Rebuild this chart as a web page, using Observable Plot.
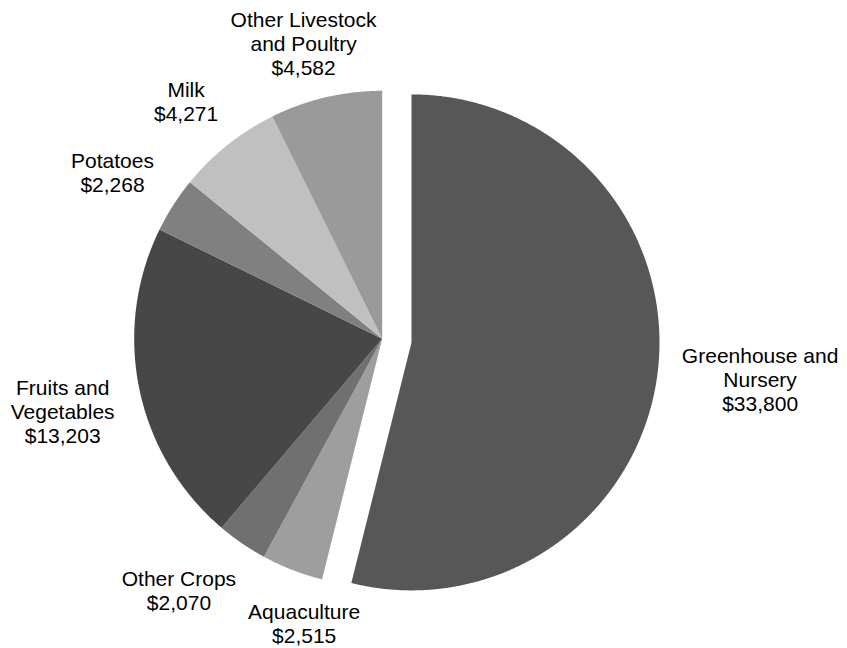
<!DOCTYPE html>
<html><head><meta charset="utf-8">
<script src="https://cdn.jsdelivr.net/npm/d3@7"></script>
<script src="https://cdn.jsdelivr.net/npm/@observablehq/plot@0.6"></script>
<style>body{margin:0;background:#fff;} #chart{width:847px;height:648px;}</style>
</head><body><div id="chart"></div>
<script>
// ---- data ----
const categories = ["Greenhouse and\nNursery", "Aquaculture", "Other Crops", "Fruits and\nVegetables", "Potatoes", "Milk", "Other Livestock\nand Poultry"];
const values = [33800, 2515, 2070, 13203, 2268, 4271, 4582];
// ---- styles ----
const sliceColors = ["#575757", "#9e9e9e", "#707070", "#474747", "#808080", "#c0c0c0", "#9a9a9a"];
const explodedCategory = "Greenhouse and\nNursery";

const W = 847, H = 648;
const cx = 381.7, cy = 338.3, R = 248, explodeDist = 29.5, gap = 21;
const labelAngleShift = -1 * Math.PI / 180;
const padTop = 7, padBottom = 1, padSide = 1, labelPad = 8;
const fontSize = 21, lineH = 1.14;
const fontFamily = "'Liberation Sans', Arial, Helvetica, sans-serif";

const rows = categories.map((name, i) => ({name, value: values[i]}));
const arcs = d3.pie().sort(null).value(d => d.value)(rows);

// slice polygons
const points = [];
const centers = {};
for (const a of arcs) {
  const mid = (a.startAngle + a.endAngle) / 2;
  const off = a.data.name === explodedCategory ? explodeDist : 0;
  const ox = cx + off * Math.sin(mid), oy = cy - off * Math.cos(mid);
  centers[a.data.name] = [ox, oy];
  points.push({name: a.data.name, x: ox, y: oy});
  const n = Math.max(2, Math.ceil((a.endAngle - a.startAngle) / (Math.PI / 720)));
  for (let k = 0; k <= n; k++) {
    const t = a.startAngle + (a.endAngle - a.startAngle) * k / n;
    points.push({name: a.data.name, x: ox + R * Math.sin(t), y: oy - R * Math.cos(t)});
  }
}

// label layout
const canvas = document.createElement("canvas");
const ctx = canvas.getContext("2d");
ctx.font = `${fontSize}px ${fontFamily}`;
const fmt = d3.format(",");
const labels = arcs.map(a => {
  const text = a.data.name + "\n$" + fmt(a.data.value);
  const lines = text.split("\n");
  const w = d3.max(lines, l => ctx.measureText(l).width);
  const h = lines.length * fontSize * lineH;
  return {name: a.data.name, text, w, h, theta: (a.startAngle + a.endAngle) / 2 + labelAngleShift, c: centers[a.data.name]};
});
function place(l) {
  const s = Math.sin(l.theta), c = Math.cos(l.theta);
  const D = R + gap + Math.abs(s) * l.w / 2 + Math.abs(c) * l.h / 2;
  let x = l.c[0] + D * s, y = l.c[1] - D * c;
  x = Math.max(l.w / 2 + padSide, Math.min(W - l.w / 2 - padSide, x));
  y = Math.max(l.h / 2 + padTop, Math.min(H - l.h / 2 - padBottom, y));
  l.x = x; l.y = y;
}
function overlap(a, b) {
  return Math.abs(a.x - b.x) < (a.w + b.w) / 2 + labelPad && Math.abs(a.y - b.y) < (a.h + b.h) / 2;
}
labels.forEach(place);
for (let it = 0; it < 300; it++) {
  let moved = false;
  for (let i = 0; i < labels.length - 1; i++) {
    const a = labels[i], b = labels[i + 1];
    if (overlap(a, b)) {
      a.theta -= Math.PI / 360; b.theta += Math.PI / 360;
      place(a); place(b); moved = true;
    }
  }
  if (!moved) break;
}

const chart = Plot.plot({
  width: W, height: H,
  margin: 0,
  x: {domain: [0, W], range: [0, W], axis: null},
  y: {domain: [0, H], range: [0, H], axis: null},
  color: {domain: categories, range: sliceColors},
  style: {fontFamily, background: "#fff"},
  marks: [
    Plot.line(points, {x: "x", y: "y", z: "name", fill: "name", stroke: null, curve: "linear-closed"}),
    Plot.text(labels, {x: "x", y: "y", text: "text", fontSize, lineHeight: lineH, lineAnchor: "middle", textAnchor: "middle", fill: "#000"})
  ]
});
document.getElementById("chart").appendChild(chart);
</script>
</body></html>
